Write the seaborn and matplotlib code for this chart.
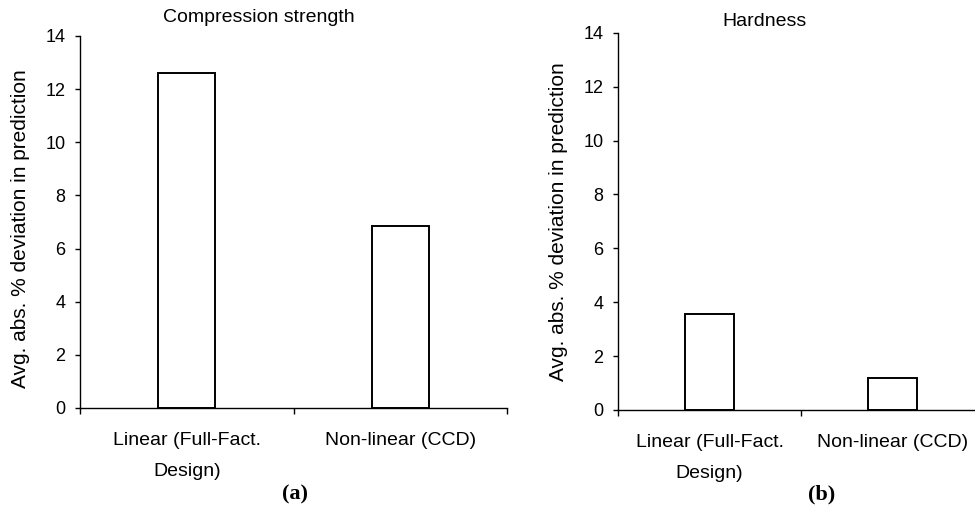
import matplotlib
matplotlib.use("Agg")
import matplotlib.pyplot as plt
import seaborn as sns
import pandas as pd

# values
categories = ["Linear (Full-Fact.\nDesign)", "Non-linear (CCD)"]
compression = [12.6, 6.85]
hardness = [3.55, 1.2]
y_ticks = [0, 2, 4, 6, 8, 10, 12, 14]
titles = ["Compression strength", "Hardness"]
captions = ["(a)", "(b)"]
ylabel = "Avg. abs. % deviation in prediction"

sns.set_theme(style="white")
plt.rcParams["font.family"] = ["Liberation Sans", "DejaVu Sans"]
plt.rcParams["text.color"] = "black"

W, H = 975, 508
fig = plt.figure(figsize=(W / 100, H / 100), dpi=100)

# axes placed in pixel terms (left, top of y=14, right, y=0)
ax1 = fig.add_axes([80 / W, (H - 408) / H, 427 / W, 372 / H])
ax2 = fig.add_axes([618 / W, (H - 410) / H, 366 / W, 377.3 / H])


def draw_panel(ax, values, label_x, label_y):
    df = pd.DataFrame({"model": categories, "dev": values})
    sns.barplot(data=df, x="model", y="dev", ax=ax, color="white",
                edgecolor="black", linewidth=1.4, width=0.265, saturation=1)
    ax.set_xlim(-0.5, 1.5)
    ax.set_ylim(0, 14)
    ax.set_yticks(y_ticks)
    ax.set_xlabel("")
    sns.despine(ax=ax)
    for s in ["left", "bottom"]:
        ax.spines[s].set_color("black")
        ax.spines[s].set_linewidth(1.0)

    ax.tick_params(axis="y", left=True, direction="out", length=3.6, width=1,
                   pad=7, labelsize=13, colors="black")
    ax.set_xticks([0, 1])
    # wider gap between the two lines of the first label
    ax.set_xticklabels(categories, linespacing=2.1)
    ax.set_xticks([-0.5, 0.5, 1.5], minor=True)
    ax.tick_params(axis="x", which="major", length=0, pad=17, labelsize=14,
                   colors="black")
    ax.tick_params(axis="x", which="minor", bottom=True, direction="out",
                   length=4.3, width=1, color="black")

    ax.set_ylabel(ylabel, fontsize=15, color="black")
    ax.yaxis.label.set_va("center")
    ax.yaxis.set_label_coords(label_x, label_y)


draw_panel(ax1, compression, (20 - 80) / 427, 0.481)
draw_panel(ax2, hardness, (559 - 618) / 366, 0.50)

fig.text(259 / W, 1 - 18 / H, titles[0], fontsize=14, ha="center", va="center")
fig.text(764 / W, 1 - 22 / H, titles[1], fontsize=14, ha="center", va="center")

for txt, x in zip(captions, [295, 822]):
    fig.text(x / W, 1 - 494 / H, txt, fontsize=16, ha="center", va="center",
             family=["Liberation Serif", "DejaVu Serif"], weight="bold")

fig.savefig("out.png", dpi=100)
